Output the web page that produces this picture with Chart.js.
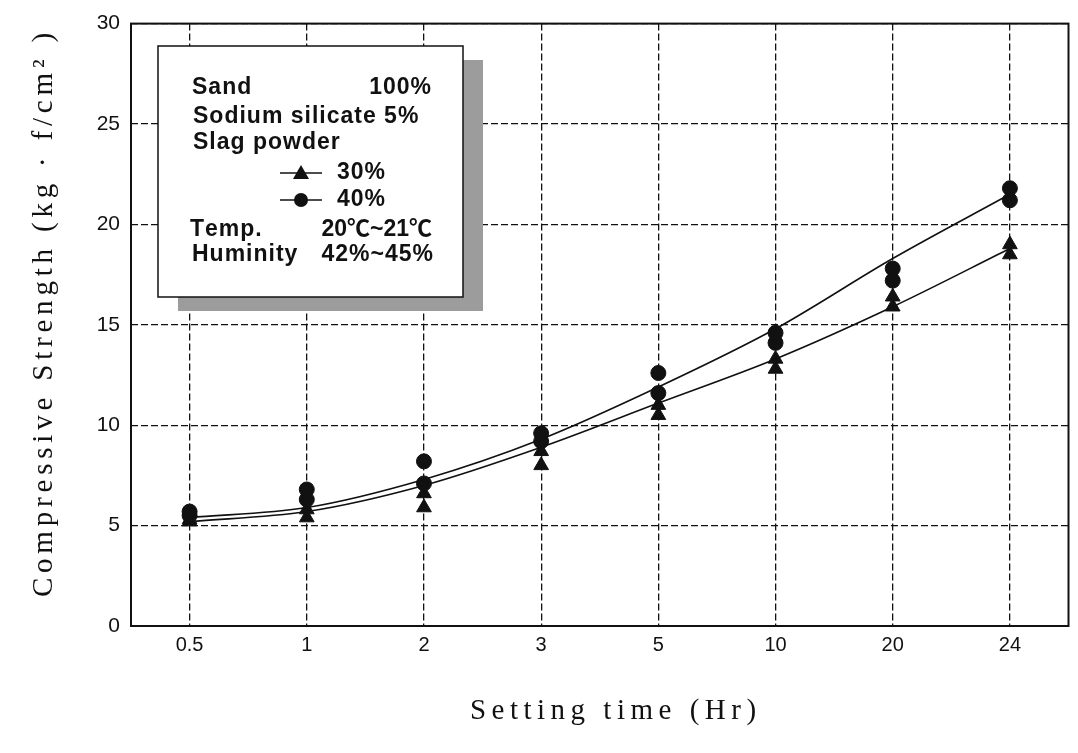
<!DOCTYPE html>
<html>
<head>
<meta charset="utf-8">
<title>Compressive strength vs setting time</title>
<script src="https://cdn.jsdelivr.net/npm/chart.js@4.4.1/dist/chart.umd.min.js"></script>
<style>
  html, body { margin: 0; padding: 0; background: #fff; }
  #wrap { width: 1078px; height: 753px; position: relative; }
</style>
</head>
<body>
<div id="wrap"><canvas id="chart"></canvas></div>
<script>
// ============================================
// Data
// ============================================
const timeLabels = ['0.5', '1', '2', '3', '5', '10', '20', '24'];

// slag powder 30% (triangles), two specimens per age
const slag30RunA = [5.3, 5.8, 6.6, 8.7, 11.0, 13.3, 16.4, 19.0];
const slag30RunB = [5.2, 5.4, 5.9, 8.0, 10.5, 12.8, 15.9, 18.5];
// slag powder 40% (circles)
const slag40RunA = [5.7, 6.8, 8.2, 9.6, 12.6, 14.6, 17.8, 21.8];
const slag40RunB = [5.5, 6.3, 7.1, 9.2, 11.6, 14.1, 17.2, 21.2];

// fitted curves
const slag30Fit = [5.2, 5.7, 7.0, 8.9, 11.1, 13.3, 15.9, 18.8];
const slag40Fit = [5.4, 5.9, 7.3, 9.3, 11.9, 14.8, 18.3, 21.5];

const yMin = 0, yMax = 30, yStep = 5;

// ============================================
// Helpers
// ============================================
const INK = '#111';
const SANS = '"Liberation Sans", Arial, "Noto Sans CJK KR", sans-serif';
const SERIF = '"Liberation Serif", "Times New Roman", serif';

const toPoints = (vals) => vals.map((v, i) => ({ x: i, y: v }));

// text with extra spacing between letters; align = 'left' | 'center' | 'right'
const drawSpaced = (ctx, text, x, y, spacing, align = 'center') => {
  const chars = [...text];
  const widths = chars.map(c => ctx.measureText(c).width);
  const total = widths.reduce((a, b) => a + b, 0) + spacing * (chars.length - 1);
  let cx = align === 'left' ? x : align === 'right' ? x - total : x - total / 2;
  ctx.textAlign = 'left';
  chars.forEach((c, i) => {
    ctx.fillText(c, cx, y);
    cx += widths[i] + spacing;
  });
};

// frame, axis titles
const framePlugin = {
  id: 'frame',
  afterDatasetsDraw(chart) {
    const { ctx, chartArea: a } = chart;
    ctx.save();
    ctx.strokeStyle = INK;
    ctx.lineWidth = 2;
    ctx.strokeRect(a.left, a.top, a.right - a.left, a.bottom - a.top);

    ctx.fillStyle = INK;
    ctx.font = `29px ${SERIF}`;
    ctx.textBaseline = 'middle';
    drawSpaced(ctx, 'Setting time (Hr)', 613, 711, 5.5);

    ctx.translate(44, 315);
    ctx.rotate(-Math.PI / 2);
    drawSpaced(ctx, 'Compressive Strength (kg · f/cm² )', 0, 0, 4.8);
    ctx.restore();
  }
};

// the boxed note with mix details and marker key
const infoBox = {
  id: 'infoBox',
  afterDraw(chart) {
    const ctx = chart.ctx;
    const bx = 158, by = 46, bw = 305, bh = 251;
    ctx.save();
    ctx.fillStyle = '#9c9c9c';
    ctx.fillRect(bx + 20, by + 14, bw, bh);
    ctx.fillStyle = '#fff';
    ctx.fillRect(bx, by, bw, bh);
    ctx.strokeStyle = INK;
    ctx.lineWidth = 1.5;
    ctx.strokeRect(bx, by, bw, bh);

    ctx.fillStyle = INK;
    ctx.font = `bold 23px ${SANS}`;
    ctx.textBaseline = 'middle';
    const sp = 1;

    drawSpaced(ctx, 'Sand', 192, 88, sp, 'left');
    drawSpaced(ctx, '100%', 431, 88, sp, 'right');
    drawSpaced(ctx, 'Sodium silicate 5%', 193, 117, sp, 'left');
    drawSpaced(ctx, 'Slag powder', 193, 143, sp, 'left');
    drawSpaced(ctx, '30%', 337, 173, sp, 'left');
    drawSpaced(ctx, '40%', 337, 200, sp, 'left');
    drawSpaced(ctx, 'Temp.', 190, 230, sp, 'left');
    drawSpaced(ctx, '20℃~21℃', 432, 230, 0, 'right');
    drawSpaced(ctx, 'Huminity', 192, 255, sp, 'left');
    drawSpaced(ctx, '42%~45%', 433, 255, sp, 'right');

    // marker key
    ctx.lineWidth = 1.6;
    ctx.strokeStyle = INK;
    [173, 200].forEach(y => {
      ctx.beginPath();
      ctx.moveTo(280, y);
      ctx.lineTo(322, y);
      ctx.stroke();
    });
    ctx.beginPath();
    ctx.moveTo(301, 165);
    ctx.lineTo(309, 179);
    ctx.lineTo(293, 179);
    ctx.closePath();
    ctx.fill();
    ctx.beginPath();
    ctx.arc(301, 200, 7, 0, Math.PI * 2);
    ctx.fill();
    ctx.restore();
  }
};

// ============================================
// Chart
// ============================================
const markerSet = (vals, style, radius) => ({
  type: 'scatter',
  data: toPoints(vals),
  pointStyle: style,
  pointRadius: radius,
  backgroundColor: INK,
  borderColor: INK,
  borderWidth: 1,
  showLine: false
});

const fitLine = (vals) => ({
  type: 'line',
  data: toPoints(vals),
  borderColor: INK,
  borderWidth: 1.6,
  pointRadius: 0,
  fill: false,
  cubicInterpolationMode: 'monotone'
});

new Chart(document.getElementById('chart'), {
  type: 'scatter',
  data: {
    datasets: [
      fitLine(slag30Fit),
      fitLine(slag40Fit),
      markerSet(slag40RunA, 'circle', 7.5),
      markerSet(slag40RunB, 'circle', 7.5),
      markerSet(slag30RunA, 'triangle', 8.5),
      markerSet(slag30RunB, 'triangle', 8.5)
    ]
  },
  options: {
    responsive: true,
    maintainAspectRatio: false,
    animation: false,
    layout: { padding: { top: 20, right: 8, left: 0, bottom: 0 } },
    plugins: {
      legend: { display: false },
      tooltip: { enabled: false }
    },
    scales: {
      x: {
        type: 'linear',
        min: -0.5,
        max: timeLabels.length - 0.5,
        afterBuildTicks: (scale) => {
          scale.ticks = timeLabels.map((_, i) => ({ value: i }));
        },
        afterFit: (scale) => { scale.height = 127; },
        grid: { color: INK, lineWidth: 1.3, drawTicks: false },
        border: { display: false, dash: [7, 3] },
        ticks: {
          color: INK,
          padding: 7,
          font: { family: SANS, size: 20 },
          callback: (v) => timeLabels[v]
        }
      },
      y: {
        min: yMin,
        max: yMax,
        afterFit: (scale) => { scale.width = 131; },
        grid: { color: INK, lineWidth: 1.3, drawTicks: false },
        border: { display: false, dash: [7, 3] },
        ticks: {
          stepSize: yStep,
          color: INK,
          padding: 11,
          font: { family: SANS, size: 21 }
        }
      }
    }
  },
  plugins: [framePlugin, infoBox]
});
</script>
</body>
</html>
